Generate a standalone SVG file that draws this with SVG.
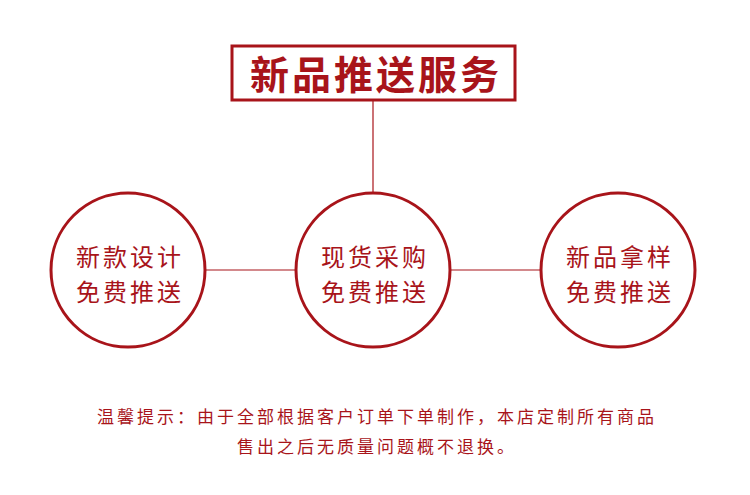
<svg xmlns="http://www.w3.org/2000/svg" width="750" height="495" viewBox="0 0 750 495">
<style>
.c{fill:#fff;stroke:#a8141a;stroke-width:3}
.l{stroke:#a8141a;stroke-width:1.2}
.t{font-family:"Noto Sans CJK SC",sans-serif;fill:#a8141a;text-anchor:middle}
.n{font-size:24px;letter-spacing:3px}
</style>
<rect width="750" height="495" fill="#fff"/>
<g id="connectors">
<line class="l" x1="373" y1="101" x2="373" y2="194"/>
<line class="l" x1="206" y1="270" x2="296" y2="270"/>
<line class="l" x1="451" y1="270" x2="541" y2="270"/>
</g>
<g id="title">
<rect x="232" y="46" width="283" height="54" fill="#fff" stroke="#a8141a" stroke-width="3"/>
<text class="t" x="376" y="89" font-size="39" font-weight="bold" letter-spacing="3">新品推送服务</text>
</g>
<g id="n1"><circle class="c" cx="128" cy="270" r="77"/>
<text class="t n" x="130" y="266">新款设计</text><text class="t n" x="130" y="301">免费推送</text></g>
<g id="n2"><circle class="c" cx="373" cy="270" r="77"/>
<text class="t n" x="375" y="266">现货采购</text><text class="t n" x="375" y="301">免费推送</text></g>
<g id="n3"><circle class="c" cx="618" cy="270" r="77"/>
<text class="t n" x="620" y="266">新品拿样</text><text class="t n" x="620" y="301">免费推送</text></g>
<g id="note">
<text class="t" x="377" y="423" font-size="17" letter-spacing="3">温馨提示：由于全部根据客户订单下单制作，本店定制所有商品</text>
<text class="t" x="377" y="453" font-size="17" letter-spacing="3">售出之后无质量问题概不退换。</text>
</g>
</svg>
